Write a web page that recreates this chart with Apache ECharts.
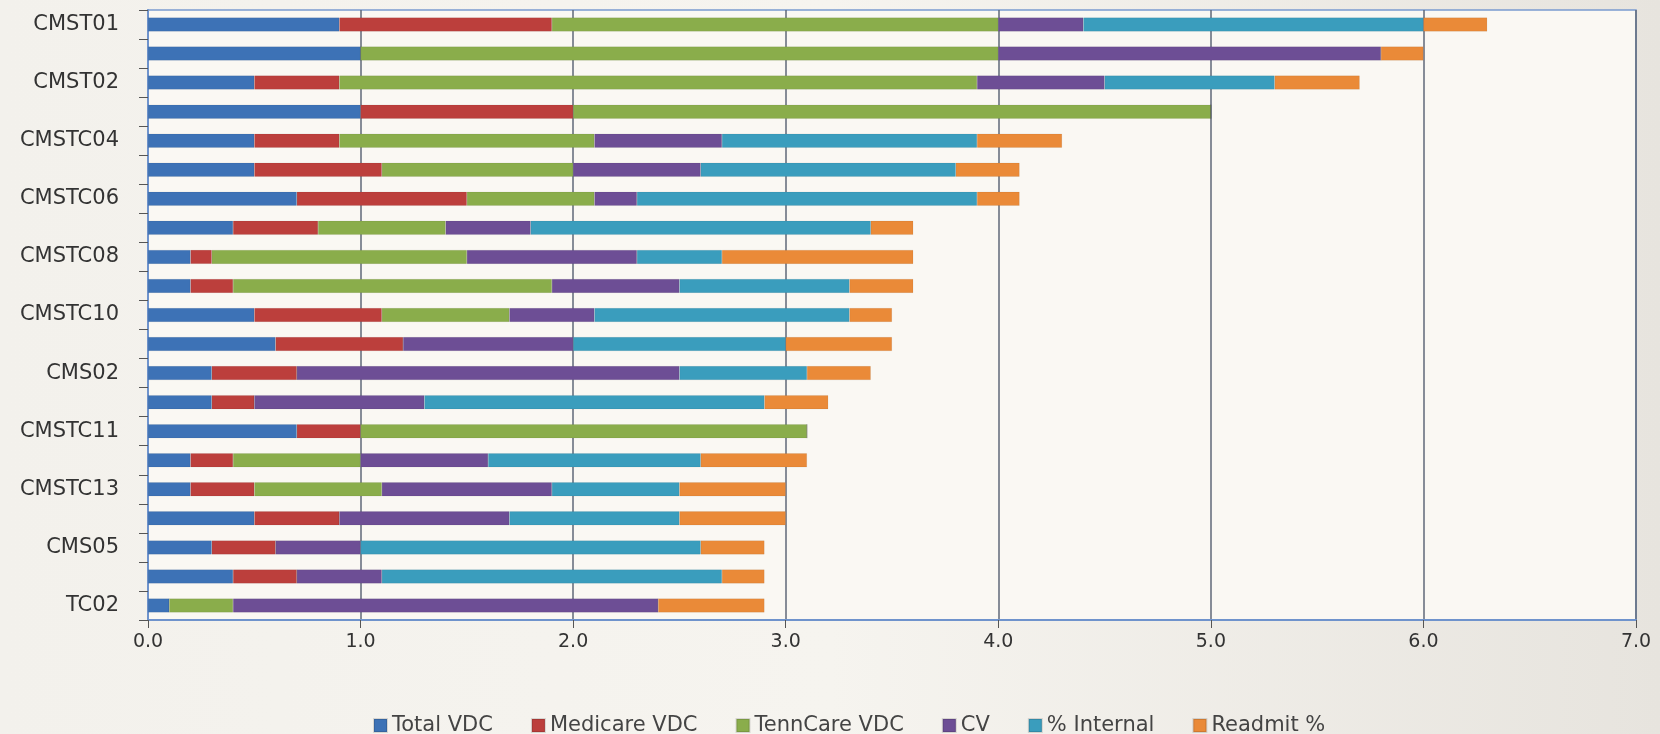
<!DOCTYPE html>
<html>
<head>
<meta charset="utf-8">
<script src="https://cdn.jsdelivr.net/npm/echarts@6/dist/echarts.min.js"></script>
<style>
html,body{margin:0;padding:0;background:#f1efea;}
#c{width:1660px;height:734px;background:linear-gradient(90deg,#f3f1ec 0%,#f6f4ef 50%,#e7e4de 100%);}
</style>
</head>
<body>
<div id="c"></div>
<script>
const categories = ['CMST01','CMST03','CMST02','CMSTC03','CMSTC04','CMSTC05','CMSTC06','CMSTC07','CMSTC08','CMSTC09','CMSTC10','CMS01','CMS02','CMS03','CMSTC11','CMSTC12','CMSTC13','CMS04','CMS05','CMS06','TC02'];
const seriesNames = ['Total VDC','Medicare VDC','TennCare VDC','CV','% Internal','Readmit %'];
const totalVDC    = [0.9,1.0,0.5,1.0,0.5,0.5,0.7,0.4,0.2,0.2,0.5,0.6,0.3,0.3,0.7,0.2,0.2,0.5,0.3,0.4,0.1];
const medicareVDC = [1.0,0.0,0.4,1.0,0.4,0.6,0.8,0.4,0.1,0.2,0.6,0.6,0.4,0.2,0.3,0.2,0.3,0.4,0.3,0.3,0.0];
const tennCareVDC = [2.1,3.0,3.0,3.0,1.2,0.9,0.6,0.6,1.2,1.5,0.6,0.0,0.0,0.0,2.1,0.6,0.6,0.0,0.0,0.0,0.3];
const cv          = [0.4,1.8,0.6,0.0,0.6,0.6,0.2,0.4,0.8,0.6,0.4,0.8,1.8,0.8,0.0,0.6,0.8,0.8,0.4,0.4,2.0];
const pctInternal = [1.6,0.0,0.8,0.0,1.2,1.2,1.6,1.6,0.4,0.8,1.2,1.0,0.6,1.6,0.0,1.0,0.6,0.8,1.6,1.6,0.0];
const readmitPct  = [0.3,0.2,0.4,0.0,0.4,0.3,0.2,0.2,0.9,0.3,0.2,0.5,0.3,0.3,0.0,0.5,0.5,0.5,0.3,0.2,0.5];
const xTicks = [0,1,2,3,4,5,6,7];

const values = [totalVDC, medicareVDC, tennCareVDC, cv, pctInternal, readmitPct];
const colors = ['#3d72b6','#bc3f3c','#8aad4b','#6d4e95','#3a9dbd','#ea8a38'];
const FONT = 'DejaVu Sans, Verdana, sans-serif';

const chart = echarts.init(document.getElementById('c'), null, {renderer:'canvas'});
chart.setOption({
  backgroundColor: 'transparent',
  animation: false,
  color: colors,
  grid: {
    left: 148, right: 24, top: 10, bottom: 114,
    show: true, backgroundColor: '#faf8f3', borderColor: '#7a9bd0', borderWidth: 1.5
  },
  legend: {
    top: 710, left: 368,
    icon: 'rect', itemWidth: 13, itemHeight: 13, itemGap: 38,
    textStyle: { fontFamily: FONT, fontSize: 21, color: '#444' },
    data: seriesNames
  },
  xAxis: {
    type: 'value', min: xTicks[0], max: xTicks[xTicks.length-1], interval: 1,
    axisLine: { show: true, lineStyle: { color: '#6f93cc', width: 2 } },
    axisTick: { show: true, length: 8, lineStyle: { color: '#555' } },
    axisLabel: { formatter: v => v.toFixed(1), fontFamily: FONT, fontSize: 19, color: '#333', margin: 13 },
    splitLine: { show: true, lineStyle: { color: '#5f6878', width: 1.5 } }
  },
  yAxis: {
    type: 'category', data: categories, inverse: true,
    axisLine: { show: true, lineStyle: { color: '#6f93cc', width: 2 } },
    axisTick: { show: true, interval: 0, length: 9, lineStyle: { color: '#555' } },
    axisLabel: { interval: 1, fontFamily: FONT, fontSize: 21, color: '#333', margin: 29 },
    splitLine: { show: false }
  },
  series: seriesNames.map((n, i) => ({
    name: n, type: 'bar', stack: 'total', data: values[i],
    barWidth: 14,
    itemStyle: { color: colors[i], borderColor: 'rgba(0,0,0,0.12)', borderWidth: 0.5 }
  }))
});
</script>
</body>
</html>
